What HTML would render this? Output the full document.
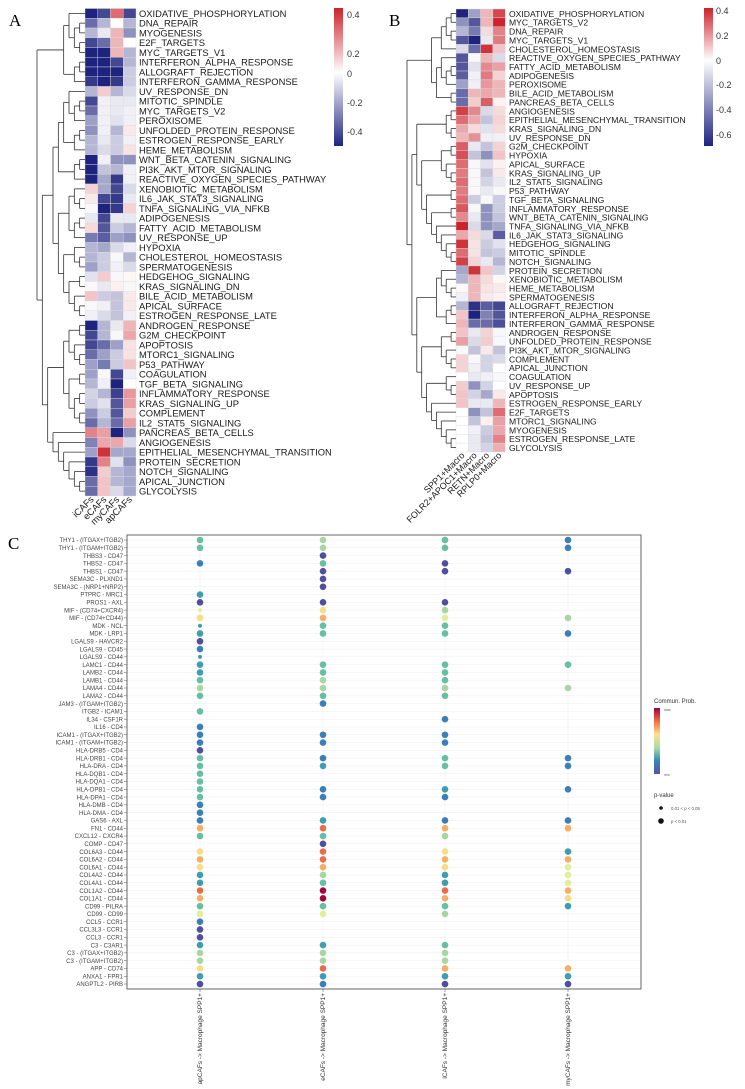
<!DOCTYPE html>
<html><head><meta charset="utf-8"><style>
body{margin:0;background:#fff}
svg{display:block;font-family:"Liberation Sans",sans-serif}
</style></head><body>
<svg id="s" width="745" height="1089" xmlns="http://www.w3.org/2000/svg"></svg>
<script>
var out=[];
function col(v){var t=Math.min(Math.abs(v)/3,1);var c=v>=0?[205,35,45]:[30,35,125];
return 'rgb('+c.map(function(k){return Math.round(255+(k-255)*t)}).join(',')+')';}
function txt(x,y,s,fs,extra){out.push('<text x="'+x+'" y="'+y+'" font-size="'+fs+'" '+(extra||'')+'>'+s+'</text>');}
function line(x1,y1,x2,y2,c,w){out.push('<line x1="'+x1+'" y1="'+y1+'" x2="'+x2+'" y2="'+y2+'" stroke="'+(c||'#333')+'" stroke-width="'+(w||0.8)+'"/>');}
function H(n){return typeof n==='number'?0:1+Math.max(H(n[0]),H(n[1]));}
function dendro(tree,xl,xr,y0,rh){var rootH=H(tree);var sc=(xl-xr)/rootH;
 function go(n){if(typeof n==='number')return {y:y0+rh*(n+0.5),x:xl};
  var a=go(n[0]),b=go(n[1]);var x=xl-H(n)*sc;
  line(x,a.y,x,b.y);line(x,a.y,a.x,a.y);line(x,b.y,b.x,b.y);return {y:(a.y+b.y)/2,x:x};}
 go(tree);}
function heat(x0,cw,y0,rh,names,vals,lx,fs){
 for(var i=0;i<names.length;i++){for(var j=0;j<4;j++){
  out.push('<rect x="'+(x0+j*cw)+'" y="'+(y0+i*rh)+'" width="'+cw+'" height="'+rh+'" fill="'+col(vals[i][j])+'" stroke="#ddd" stroke-width="0.4"/>');}
  txt(lx,y0+rh*(i+0.5)+3.4,names[i],fs,'fill="#1a1a1a"');}}
var An=["OXIDATIVE_PHOSPHORYLATION","DNA_REPAIR","MYOGENESIS","E2F_TARGETS","MYC_TARGETS_V1","INTERFERON_ALPHA_RESPONSE","ALLOGRAFT_REJECTION","INTERFERON_GAMMA_RESPONSE","UV_RESPONSE_DN","MITOTIC_SPINDLE","MYC_TARGETS_V2","PEROXISOME","UNFOLDED_PROTEIN_RESPONSE","ESTROGEN_RESPONSE_EARLY","HEME_METABOLISM","WNT_BETA_CATENIN_SIGNALING","PI3K_AKT_MTOR_SIGNALING","REACTIVE_OXYGEN_SPECIES_PATHWAY","XENOBIOTIC_METABOLISM","IL6_JAK_STAT3_SIGNALING","TNFA_SIGNALING_VIA_NFKB","ADIPOGENESIS","FATTY_ACID_METABOLISM","UV_RESPONSE_UP","HYPOXIA","CHOLESTEROL_HOMEOSTASIS","SPERMATOGENESIS","HEDGEHOG_SIGNALING","KRAS_SIGNALING_DN","BILE_ACID_METABOLISM","APICAL_SURFACE","ESTROGEN_RESPONSE_LATE","ANDROGEN_RESPONSE","G2M_CHECKPOINT","APOPTOSIS","MTORC1_SIGNALING","P53_PATHWAY","COAGULATION","TGF_BETA_SIGNALING","INFLAMMATORY_RESPONSE","KRAS_SIGNALING_UP","COMPLEMENT","IL2_STAT5_SIGNALING","PANCREAS_BETA_CELLS","ANGIOGENESIS","EPITHELIAL_MESENCHYMAL_TRANSITION","PROTEIN_SECRETION","NOTCH_SIGNALING","APICAL_JUNCTION","GLYCOLYSIS"];
var Av=[[-3,-2.5,2,-2.5],[-2,-1,0,-1],[-1,-0.3,1,-1.5],[-2.5,-2,1,0],[-3,-3,1,-1],[-3,-3,-2.5,-1],[-3,-3,-3,-0.7],[-2.7,-3,-2.7,-0.7],[-1,0.7,-1,-0.5],[-2.5,-0.2,-0.3,-0.3],[-2,-0.2,-0.3,-0.2],[-1.3,-0.2,-0.4,-0.2],[-1.5,-0.2,-1,0.3],[-1,-0.3,-0.7,-0.2],[-1,-0.5,-0.7,0.4],[-3,-0.2,-1.5,-1.5],[-3,-0.8,-1,-0.2],[-3,-1.2,-2.7,-0.2],[0.6,-1.2,-2.5,-0.5],[0.3,-2.5,-2.7,-0.3],[-0.1,-3,-2.7,0.6],[-0.3,-2.5,-0.3,-0.3],[0.5,-2.3,-0.7,-1],[-1.8,-2.2,-1.3,-1.5],[-1,-1.2,-0.5,-0.2],[-1,-0.7,-0.1,-1],[-1.3,-0.7,-0.2,-0.5],[-0.4,0.7,-0.1,0.1],[0.1,-0.3,0.2,-0.1],[0.8,-0.7,-0.8,0.3],[-0.1,-0.2,-0.8,0.3],[-0.2,-0.5,-0.8,-0.2],[-3,-1,-0.3,1],[-2.5,-1,-0.1,1.2],[-2.5,-2,-1.3,0.4],[-2,-1.3,-0.7,0.4],[-1.3,-1.8,-0.7,0.8],[-1.3,-0.1,-2.5,-0.2],[-1,-0.2,-3,0],[-0.6,-1,-2.6,1.4],[-0.7,-0.4,-2.3,1.3],[-1.5,-0.7,-2.3,0.7],[-2,-1,-2,1.3],[1.7,1.3,-3,-1.5],[-1.7,1.2,1.2,-0.5],[-1.3,2.8,-1.2,-1.2],[-2.7,1.7,-0.4,-1.5],[-2.8,0.7,-1,-1.2],[-2,0.8,-1,-1.2],[-2,0.8,-0.5,-1.2]];
heat(85,12.75,8.5,9.75,An,Av,139,9.4);
dendro([[[0,[[1,2],[3,4]]],[[5,6],7]],[[[[[8,[[9,10],11]],[[12,13],14]],[[15,16],17]],[[[18,[19,20]],[[21,22],23]],[[24,[25,26]],[[27,28],[29,[30,31]]]]]],[[[[32,33],[34,[35,36]]],[[37,38],[[39,40],[41,42]]]],[43,[44,[45,[46,[47,[48,49]]]]]]]]],85,37,8.5,9.75);
["iCAFs","eCAFs","myCAFs","apCAFs"].forEach(function(s,j){var x=85+12.75*(j+0.5)+3,y=500;
 txt(x,y,s,9.4,'text-anchor="end" transform="rotate(-45 '+x+' '+y+')" fill="#1a1a1a"');});
txt(9,26,"A",17,'font-family="Liberation Serif,serif"');
out.push('<defs><linearGradient id="ga" x1="0" y1="0" x2="0" y2="1"><stop offset="0" stop-color="#cd232d"/><stop offset="0.47" stop-color="#fff"/><stop offset="1" stop-color="#1e2380"/></linearGradient><linearGradient id="gb" x1="0" y1="0" x2="0" y2="1"><stop offset="0" stop-color="#cd232d"/><stop offset="0.38" stop-color="#fff"/><stop offset="1" stop-color="#1e2380"/></linearGradient><linearGradient id="gc" x1="0" y1="0" x2="0" y2="1"><stop offset="0" stop-color="#9e0142"/><stop offset="0.2" stop-color="#f46d43"/><stop offset="0.4" stop-color="#fee08b"/><stop offset="0.6" stop-color="#abdda4"/><stop offset="0.8" stop-color="#3288bd"/><stop offset="1" stop-color="#5e4fa2"/></linearGradient></defs>');
out.push('<rect x="334" y="8" width="9" height="138" fill="url(#ga)"/>');
[["0.4",18],["0.2",57],["0",77],["-0.2",106],["-0.4",135]].forEach(function(a){txt(347,a[1],a[0],9,'fill="#333"');});
var Bn=["OXIDATIVE_PHOSPHORYLATION","MYC_TARGETS_V2","DNA_REPAIR","MYC_TARGETS_V1","CHOLESTEROL_HOMEOSTASIS","REACTIVE_OXYGEN_SPECIES_PATHWAY","FATTY_ACID_METABOLISM","ADIPOGENESIS","PEROXISOME","BILE_ACID_METABOLISM","PANCREAS_BETA_CELLS","ANGIOGENESIS","EPITHELIAL_MESENCHYMAL_TRANSITION","KRAS_SIGNALING_DN","UV_RESPONSE_DN","G2M_CHECKPOINT","HYPOXIA","APICAL_SURFACE","KRAS_SIGNALING_UP","IL2_STAT5_SIGNALING","P53_PATHWAY","TGF_BETA_SIGNALING","INFLAMMATORY_RESPONSE","WNT_BETA_CATENIN_SIGNALING","TNFA_SIGNALING_VIA_NFKB","IL6_JAK_STAT3_SIGNALING","HEDGEHOG_SIGNALING","MITOTIC_SPINDLE","NOTCH_SIGNALING","PROTEIN_SECRETION","XENOBIOTIC_METABOLISM","HEME_METABOLISM","SPERMATOGENESIS","ALLOGRAFT_REJECTION","INTERFERON_ALPHA_RESPONSE","INTERFERON_GAMMA_RESPONSE","ANDROGEN_RESPONSE","UNFOLDED_PROTEIN_RESPONSE","PI3K_AKT_MTOR_SIGNALING","COMPLEMENT","APICAL_JUNCTION","COAGULATION","UV_RESPONSE_UP","APOPTOSIS","ESTROGEN_RESPONSE_EARLY","E2F_TARGETS","MTORC1_SIGNALING","MYOGENESIS","ESTROGEN_RESPONSE_LATE","GLYCOLYSIS"];
var Bv=[[-3,-1.3,1,2.5],[-1.5,-2.3,1,3],[-1,-1.8,0.5,1.7],[-2.3,-3,-0.3,1.8],[-0.5,-2,2.8,0.8],[-2.3,-0.1,1,-0.5],[-2.3,-0.4,1.6,1.3],[-2.2,-0.2,1.8,0.6],[-1.3,-0.2,1.4,1],[-2,1,1.2,1],[-2,0.7,2.2,0.2],[2.6,1.6,-0.5,0.5],[2,1.2,-0.8,0.6],[1.2,0.5,-0.4,0.5],[1,1.5,-0.2,-0.2],[2.2,-0.3,-0.8,0.6],[2.4,-0.8,-1.5,0.8],[2,-0.1,-0.4,0.2],[1.8,-0.1,-0.8,0.3],[2,-0.1,-0.6,-0.3],[1.8,-0.1,-0.3,-0.1],[2,-0.7,-0.1,-0.7],[2.3,-0.1,-1.5,-0.7],[1.6,-0.3,-1.5,-0.8],[3,-0.5,-1.5,-1.2],[1.2,0.5,-0.5,-2.2],[2.8,0.4,-0.7,-0.4],[2,0.4,-0.8,-0.7],[2.6,0.6,-0.3,-1],[-1.2,2.8,0.8,-0.6],[-1,1,0.5,0.1],[0.1,1,0.4,0.3],[-0.2,1,0.3,0.2],[-1,-2.8,-2.2,-2.5],[0.8,-3,-1.7,-2.3],[1,-2,-2,-2.4],[0.8,-0.3,0.6,-0.1],[1.3,-0.5,0.7,-0.1],[-0.1,-0.8,0.3,-0.8],[0.6,-0.1,-0.6,-0.5],[0.6,-0.2,-0.6,0],[0,-0.3,-0.2,-0.1],[0.7,-1.5,-0.6,0],[0.8,-0.6,-1.2,0.3],[0.8,-0.3,-0.3,1],[0,-1.5,-0.8,2],[0,-0.8,0.2,1.3],[0,-0.2,-0.7,1.2],[0,-0.3,-0.8,1.7],[0,-0.3,-0.6,1.1]];
heat(456,12.3,9,8.86,Bn,Bv,509,8.6);
dendro([[[[[0,1],[2,3]],4],[[5,[[6,7],8]],[9,10]]],[[[[11,12],[13,14]],[[[15,16],[17,[18,19]]],[[20,21],[[22,23],[24,[25,[26,[27,28]]]]]]]],[[[29,[30,[31,32]]],[[33,34],35]],[[[36,37],[38,[39,40]]],[[41,[42,43]],[44,[45,[46,[47,[48,49]]]]]]]]]],456,407,9,8.86);
["SPP1+Macro","FOLR2+APOC1+Macro","RETN+Macro","RPLP0+Macro"].forEach(function(s,j){var x=456+12.3*(j+0.5)+3,y=456;
 txt(x,y,s,9,'text-anchor="end" transform="rotate(-45 '+x+' '+y+')" fill="#1a1a1a"');});
txt(389,26,"B",17,'font-family="Liberation Serif,serif"');
out.push('<rect x="704" y="8" width="9" height="138" fill="url(#gb)"/>');
[["0.4",14],["0.2",39],["0",64],["-0.2",88],["-0.4",113],["-0.6",138]].forEach(function(a){txt(716,a[1],a[0],9,'fill="#333"');});
txt(8,549,"C",17,'font-family="Liberation Serif,serif"');
var pal=[null,"#4e4f9e","#3a7fb8","#3f9eae","#66bfa2","#a7d6a0","#e2ee9a","#f8dc86","#f6ad64","#ec6c47","#d0414f","#9e0a3e"];
var Cn=["THY1 - (ITGAX+ITGB2)","THY1 - (ITGAM+ITGB2)","THBS3 - CD47","THBS2 - CD47","THBS1 - CD47","SEMA3C - PLXND1","SEMA3C - (NRP1+NRP2)","PTPRC - MRC1","PROS1 - AXL","MIF - (CD74+CXCR4)","MIF - (CD74+CD44)","MDK - NCL","MDK - LRP1","LGALS9 - HAVCR2","LGALS9 - CD45","LGALS9 - CD44","LAMC1 - CD44","LAMB2 - CD44","LAMB1 - CD44","LAMA4 - CD44","LAMA2 - CD44","JAM3 - (ITGAM+ITGB2)","ITGB2 - ICAM1","IL34 - CSF1R","IL16 - CD4","ICAM1 - (ITGAX+ITGB2)","ICAM1 - (ITGAM+ITGB2)","HLA-DRB5 - CD4","HLA-DRB1 - CD4","HLA-DRA - CD4","HLA-DQB1 - CD4","HLA-DQA1 - CD4","HLA-DPB1 - CD4","HLA-DPA1 - CD4","HLA-DMB - CD4","HLA-DMA - CD4","GAS6 - AXL","FN1 - CD44","CXCL12 - CXCR4","COMP - CD47","COL6A3 - CD44","COL6A2 - CD44","COL6A1 - CD44","COL4A2 - CD44","COL4A1 - CD44","COL1A2 - CD44","COL1A1 - CD44","CD99 - PILRA","CD99 - CD99","CCL5 - CCR1","CCL3L3 - CCR1","CCL3 - CCR1","C3 - C3AR1","C3 - (ITGAX+ITGB2)","C3 - (ITGAM+ITGB2)","APP - CD74","ANXA1 - FPR1","ANGPTL2 - PIRB"];
var Cv=[[4,5,4,2],[4,5,4,2],[0,1,0,0],[2,4,1,0],[0,1,1,1],[0,1,0,0],[0,1,0,0],[3,0,0,0],[1,1,1,0],[-6,7,5,0],[7,8,6,5],[-3,4,4,0],[3,4,4,2],[1,0,0,0],[2,0,0,0],[-3,0,0,0],[3,4,4,4],[3,4,4,0],[4,5,4,0],[5,5,5,5],[4,4,4,0],[0,2,0,0],[4,0,0,0],[0,0,2,0],[2,0,0,0],[2,2,2,0],[2,2,2,0],[1,0,0,0],[4,2,4,2],[4,3,4,2],[4,0,0,0],[4,0,0,0],[4,2,3,2],[4,2,2,0],[2,0,0,0],[2,0,0,0],[2,3,2,2],[8,9,8,8],[4,4,5,0],[0,1,0,0],[7,9,7,3],[8,9,8,8],[7,8,7,6],[3,5,3,6],[3,4,3,6],[9,11,9,8],[8,11,8,7],[4,4,4,3],[6,6,5,0],[2,0,0,0],[1,0,0,0],[1,0,0,0],[3,3,4,0],[5,5,5,0],[5,5,5,0],[7,9,8,8],[3,3,3,3],[1,2,1,1]];
var cx=[200,323,445,568],y0=540,dy=7.79;
cx.forEach(function(x){line(x,535,x,989,"#f0f0f0",0.6);});
for(var i=0;i<Cn.length;i++){var y=y0+i*dy;line(127,y,641,y,"#ececec",0.5);
 txt(123,y+2.2,Cn[i],6,'text-anchor="end" fill="#444"');line(124,y,127,y,"#555",0.5);
 for(var j=0;j<4;j++){var v=Cv[i][j];if(!v)continue;var r=v<0?2:3.3;v=Math.abs(v);
  out.push('<circle cx="'+cx[j]+'" cy="'+y+'" r="'+r+'" fill="'+pal[v]+'"/>');}}
out.push('<rect x="127" y="535" width="514" height="454" fill="none" stroke="#666" stroke-width="1"/>');
["apCAFs -> Macrophage SPP1+","eCAFs -> Macrophage SPP1+","iCAFs -> Macrophage SPP1+","myCAFs -> Macrophage SPP1+"].forEach(function(s,j){var x=cx[j]+2.2,y=993;
 line(cx[j],989,cx[j],992,"#555",0.5);
 txt(x,y,s,6.5,'text-anchor="end" transform="rotate(-90 '+x+' '+y+')" fill="#333"');});
txt(654,703,"Commun. Prob.",6,'fill="#333"');
out.push('<rect x="654" y="708" width="6" height="66" fill="url(#gc)"/>');
txt(664,711,"max",3.5,'fill="#555"');txt(664,776,"min",3.5,'fill="#555"');
txt(654,797,"p-value",6,'fill="#333"');
out.push('<circle cx="661" cy="808" r="1.8" fill="#111"/><circle cx="661" cy="821" r="2.8" fill="#111"/>');
txt(671,810,"0.01 &lt; p &lt; 0.05",4.3,'fill="#555"');txt(671,823,"p &lt; 0.01",4.3,'fill="#555"');
document.getElementById('s').innerHTML=out.join('');
</script>
</body></html>
